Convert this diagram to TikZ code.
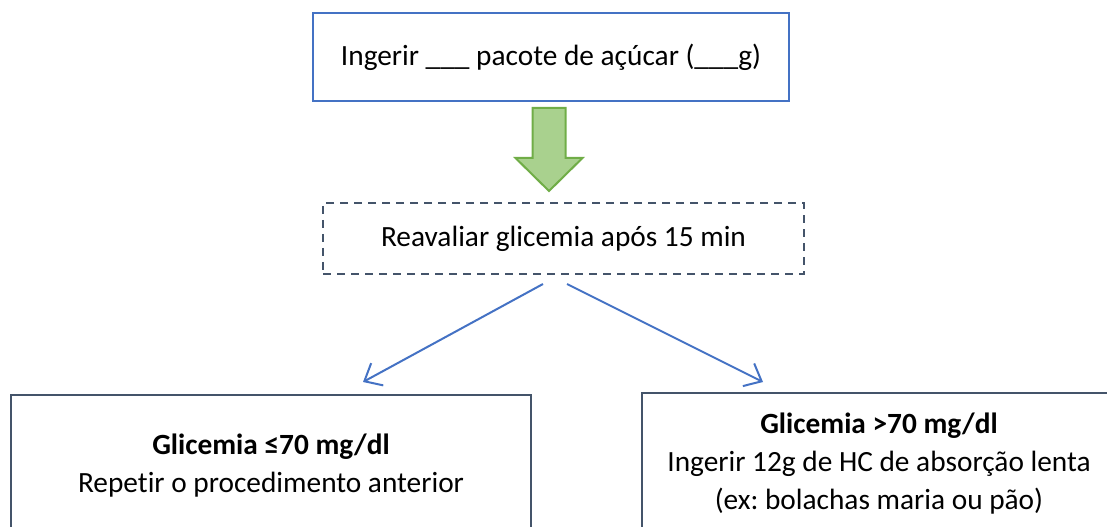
\documentclass[tikz,border=0pt]{standalone}
\usepackage{fontspec}
\setmainfont[Ligatures={NoCommon}]{Carlito}
\frenchspacing
\usetikzlibrary{arrows.meta,calc}
\definecolor{azul}{HTML}{4472C4}
\definecolor{ardosia}{HTML}{44546A}
\definecolor{verdeclaro}{HTML}{A9D18E}
\definecolor{verde}{HTML}{70AD47}
\begin{document}
\begin{tikzpicture}
[x=0.75pt,y=-0.75pt,
  boxdecorate/.style={shape=rectangle,draw=azul,line width=1.5pt,inner sep=0pt,
    minimum width=357pt,minimum height=66pt,font=\fontsize{22}{28}\selectfont},
  dashdecorate/.style={shape=rectangle,draw=ardosia,line width=1.5pt,
    dash pattern=on 6pt off 4.5pt,inner sep=0pt,
    minimum width=360.75pt,minimum height=53.25pt,font=\fontsize{22}{28}\selectfont},
  resultdecorate/.style={shape=rectangle,draw=ardosia,line width=1.5pt,inner sep=0pt,
    anchor=north,align=center,minimum height=106.5pt,font=\fontsize{22}{28.5}\selectfont},
  blockdecorate/.style={fill=verdeclaro,draw=verde,line width=1.5pt,line join=miter},
  linedecorate/.style={-{Straight Barb[length=11pt,width=19pt]},draw=azul,line width=1.5pt}]
\useasboundingbox (0,0) rectangle (1107,527);
\clip (0,0) rectangle (1107,527);
%% nodes or boxes
\node (ingerir) at (551,57) [boxdecorate] {Ingerir \_\_\_ pacote de açúcar (\_\_\_g)};
\node (reavaliar) at (563.5,238.5) [dashdecorate] {Reavaliar glicemia após 15 min};
\node (baixa) at (271,394) [resultdecorate,minimum width=390pt]
  {\textbf{Glicemia ≤70 mg/dl}\\Repetir o procedimento anterior};
\node (alta) at (879,392) [resultdecorate,minimum width=355.5pt]
  {\textbf{Glicemia >70 mg/dl}\\Ingerir 12g de HC de absorção lenta\\(ex: bolachas maria ou pão)};
%% free ends of the lines
\coordinate (saidaesq) at ($(reavaliar.south)+(-20.5,9)$);
\coordinate (saidadir) at ($(reavaliar.south)+(3.5,9)$);
\coordinate (chegadaesq) at ($(baixa.north)+(92,-12)$);
\coordinate (chegadadir) at ($(alta.north)+(-116,-10)$);
%% block arrow
\draw[blockdecorate] ($(ingerir.south)+(-2,6)$) ++(-16.5,0) -- ++(0,50)
  -- ++(-17,0) -- ++(33.5,33) -- ++(33.5,-33) -- ++(-17,0) -- ++(0,-50) -- cycle;
%% edges or lines
\path
\foreach \startnode/\endnode in {saidaesq/chegadaesq, saidadir/chegadadir}
{
  (\startnode) edge[linedecorate] (\endnode)
};
\end{tikzpicture}
\end{document}
